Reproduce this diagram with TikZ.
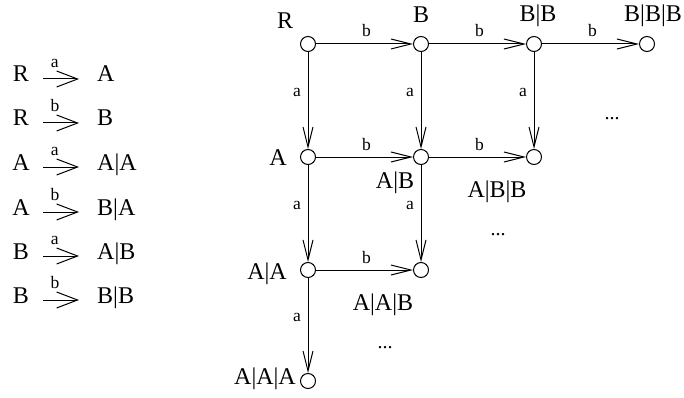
\documentclass[tikz,border=0pt]{standalone}
\usepackage{fontspec}
\setmainfont{Liberation Serif}
\usetikzlibrary{arrows.meta}
\begin{document}
\begin{tikzpicture}[x=1pt,y=-1pt,
 st/.style={circle,draw,minimum size=15pt,inner sep=0pt,line width=1pt},
 lbl/.style={font=\fontsize{24}{28}\selectfont,inner sep=0pt,anchor=base},
 el/.style={font=\fontsize{17.5}{21}\selectfont,inner sep=0pt},
 hl/.style={el,pos=0.52,anchor=base,yshift=7pt},
 vl/.style={el,pos=0.42,anchor=east,xshift=-6.5pt},
 tr/.style={line width=1pt,-{Straight Barb[length=20pt,width=10pt,line width=1pt]}},
 rl/.style={line width=1pt,-{Straight Barb[length=21pt,width=16pt,line width=1pt]}},
 rlab/.style={el,pos=0.33,anchor=base,yshift=11.5pt},
 dotsl/.style={font=\fontsize{20}{24}\selectfont,inner sep=0pt,anchor=base}]
\useasboundingbox (0,0) rectangle (684,398);

% ---- rules on the left ----
\foreach \i/\l/\e/\r/\y in {1/R/a/A/82, 2/R/b/B/126, 3/A/a/A|A/170, 4/A/b/B|A/215, 5/B/a/A|B/259, 6/B/b/B|B/303}{
  \node[lbl] (p\i) at (21,\y) {\l};
  \node[lbl,anchor=base west] (q\i) at (97,\y) {\r};
  \coordinate (s\i) at (43,\y-3);
  \coordinate (e\i) at (79,\y-3);
  \draw[rl] (s\i) -- node[rlab] (t\i) {\e} (e\i);
}

% ---- state graph ----
\node[st] (R)   at (308,44) {};
\node[st] (B)   at (421,44) {};
\node[st] (BB)  at (534,44) {};
\node[st] (BBB) at (647,44) {};
\node[st] (A)   at (308,157) {};
\node[st] (AB)  at (421,157) {};
\node[st] (ABB) at (534,157) {};
\node[st] (AA)  at (308,270) {};
\node[st] (AAB) at (421,270) {};
\node[st] (AAA) at (308,381) {};

\node[lbl] (lR)   at (285,29) {R};
\node[lbl] (lB)   at (421,23) {B};
\node[lbl] (lBB)  at (538,22) {B|B};
\node[lbl] (lBBB) at (653,22) {B|B|B};
\node[lbl] (lA)   at (278,165) {A};
\node[lbl] (lAB)  at (395,188) {A|B};
\node[lbl] (lABB) at (497,197) {A|B|B};
\node[lbl] (lAA)  at (267,279) {A|A};
\node[lbl] (lAAB) at (383,310) {A|A|B};
\node[lbl] (lAAA) at (265,384) {A|A|A};

\draw[tr] (R) -- node[hl] {b} (B);
\draw[tr] (B) -- node[hl] {b} (BB);
\draw[tr] (BB) -- node[hl] {b} (BBB);
\draw[tr] (A) -- node[hl] {b} (AB);
\draw[tr] (AB) -- node[hl] {b} (ABB);
\draw[tr] (AA) -- node[hl] {b} (AAB);
\draw[tr] (R) -- node[vl] {a} (A);
\draw[tr] (B) -- node[vl] {a} (AB);
\draw[tr] (BB) -- node[vl] {a} (ABB);
\draw[tr] (A) -- node[vl] {a} (AA);
\draw[tr] (AB) -- node[vl] {a} (AAB);
\draw[tr] (AA) -- node[vl] {a} (AAA);

\node[dotsl] (d1) at (612,120) {...};
\node[dotsl] (d2) at (498,235) {...};
\node[dotsl] (d3) at (385,348) {...};
\end{tikzpicture}
\end{document}
